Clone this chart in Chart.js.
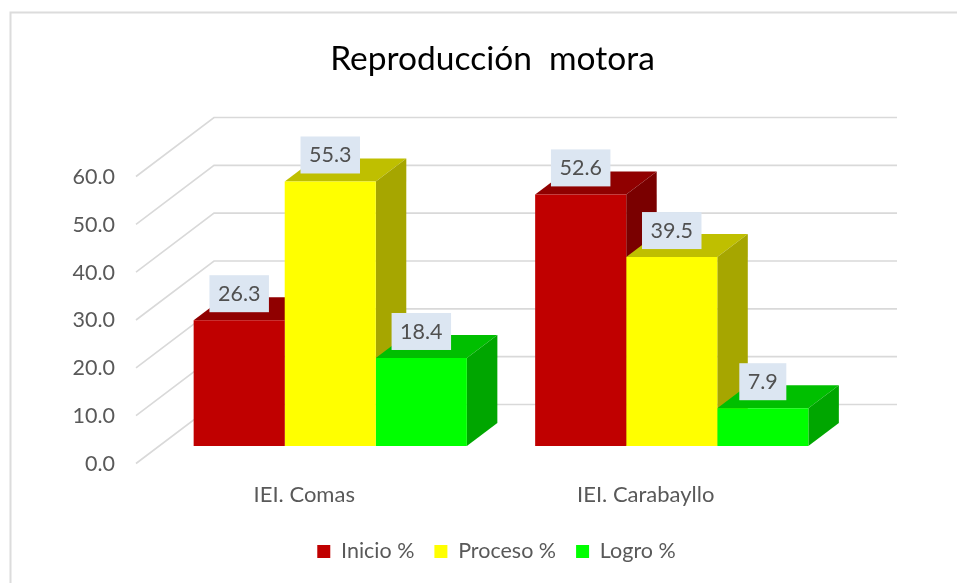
<!DOCTYPE html>
<html>
<head>
<meta charset="utf-8">
<style>html,body{margin:0;padding:0;background:#fff}canvas{display:block}</style>
<script src="https://cdn.jsdelivr.net/npm/chart.js@4"></script>
</head>
<body>
<canvas id="c" width="957" height="583"></canvas>
<script>
const categories = ['IEI. Comas', 'IEI. Carabayllo'];
const inicio = [26.3, 52.6];
const proceso = [55.3, 39.5];
const logro = [18.4, 7.9];
const seriesNames = ['Inicio %', 'Proceso %', 'Logro %'];
const frontColors = ['#c00000', '#ffff00', '#00ff00'];
const topColors = ['#900000', '#bfbf00', '#00bf00'];
const sideColors = ['#7a0000', '#a6a600', '#00a600'];
const FONT = 'Lato, Carlito, sans-serif';

const wallsAndBars = {
  id: 'wallsAndBars',
  afterLayout(chart) {
    chart.legend.left += 8;
  },
  beforeDraw(chart) {
    const ctx = chart.ctx;
    ctx.save();
    ctx.strokeStyle = '#dcdcdc';
    ctx.lineWidth = 2;
    ctx.beginPath();
    ctx.moveTo(10.5, 583); ctx.lineTo(10.5, 12.5); ctx.lineTo(957, 12.5);
    ctx.stroke();
    ctx.restore();
  },
  beforeDatasetsDraw(chart) {
    const ctx = chart.ctx, y = chart.scales.y, a = chart.chartArea;
    ctx.save();
    ctx.strokeStyle = '#d9d9d9';
    ctx.lineWidth = 1.6;
    y.ticks.forEach(t => {
      const p = y.getPixelForValue(t.value);
      ctx.beginPath();
      ctx.moveTo(a.left - 23.5, p + 17.5);
      ctx.lineTo(a.left + 54.5, p - 41.5);
      ctx.lineTo(a.right + 54.5, p - 41.5);
      ctx.stroke();
    });
    const dx = 30.5, dy = -23;
    const base = y.getPixelForValue(0);
    for (let g = 0; g < categories.length; g++) {
      chart.data.datasets.forEach((ds, i) => {
        const b = chart.getDatasetMeta(i).data[g];
        const l = b.x - b.width / 2, r = b.x + b.width / 2, t = b.y;
        ctx.fillStyle = topColors[i];
        ctx.beginPath();
        ctx.moveTo(l, t); ctx.lineTo(l + dx, t + dy); ctx.lineTo(r + dx, t + dy); ctx.lineTo(r, t);
        ctx.closePath(); ctx.fill();
        ctx.fillStyle = sideColors[i];
        ctx.beginPath();
        ctx.moveTo(r, t); ctx.lineTo(r + dx, t + dy); ctx.lineTo(r + dx, base + dy); ctx.lineTo(r, base);
        ctx.closePath(); ctx.fill();
      });
    }
    ctx.restore();
  },
  afterDatasetsDraw(chart) {
    const ctx = chart.ctx;
    ctx.save();
    ctx.font = '21.5px ' + FONT;
    ctx.textAlign = 'center';
    ctx.textBaseline = 'middle';
    chart.data.datasets.forEach((ds, i) => {
      chart.getDatasetMeta(i).data.forEach((b, g) => {
        const s = ds.data[g].toFixed(1);
        const w = ctx.measureText(s).width + 17, h = 37, cy = b.y - 26.5;
        ctx.fillStyle = '#dce6f2';
        ctx.fillRect(b.x - w / 2, cy - h / 2, w, h);
        ctx.fillStyle = '#505050';
        ctx.fillText(s, b.x, cy + 0.5);
      });
    });
    ctx.restore();
  }
};

new Chart(document.getElementById('c'), {
  type: 'bar',
  data: {
    labels: categories,
    datasets: [inicio, proceso, logro].map((d, i) => ({
      label: seriesNames[i],
      data: d,
      backgroundColor: frontColors[i],
      borderWidth: 0,
      categoryPercentage: 0.8,
      barPercentage: 1
    }))
  },
  plugins: [wallsAndBars],
  options: {
    responsive: false,
    animation: false,
    layout: { padding: { left: 28, right: 0, top: 0, bottom: 10.75 } },
    plugins: {
      tooltip: { enabled: false },
      title: {
        display: true,
        text: 'Reproducción  motora',
        color: '#000',
        font: { family: FONT, size: 33.5, weight: 'normal' },
        padding: { top: 39, bottom: 79.8 }
      },
      legend: {
        position: 'bottom',
        labels: {
          boxWidth: 13, boxHeight: 13, padding: 20,
          color: '#595959',
          font: { family: FONT, size: 21.5 }
        }
      }
    },
    scales: {
      x: {
        afterFit(s) { s.height = 74.75; s.paddingRight = 114.5; s.paddingLeft = 0; },
        grid: { display: false },
        border: { display: false },
        ticks: {
          color: '#595959', padding: 28, labelOffset: -26, maxRotation: 0,
          font: { family: FONT, size: 22 }
        }
      },
      y: {
        min: 0, max: 60,
        afterFit(s) { s.width = 131.5; },
        grid: { display: false, drawTicks: false },
        border: { display: false },
        ticks: {
          stepSize: 10, color: '#595959', padding: 44.5, labelOffset: 18,
          font: { family: FONT, size: 21.5 },
          callback: v => v.toFixed(1)
        }
      }
    }
  }
});
</script>
</body>
</html>
